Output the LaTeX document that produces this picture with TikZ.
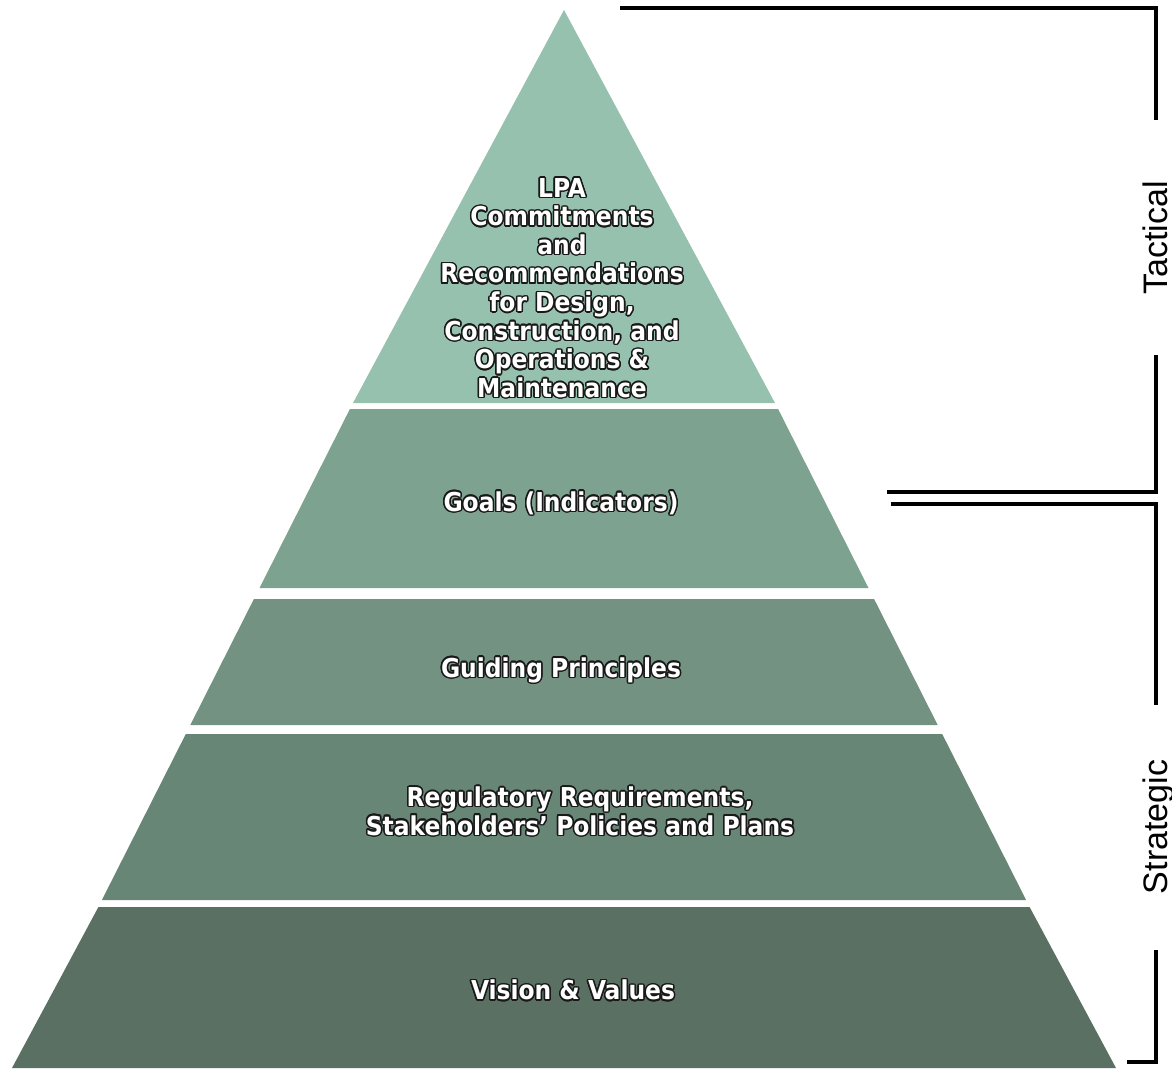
\documentclass[tikz,border=0pt]{standalone}
\usepackage{fontspec}
\setmainfont{DejaVu Sans Condensed}
\newfontfamily\sidefont{Liberation Sans}
\definecolor{bandA}{HTML}{96C1AE}
\definecolor{bandB}{HTML}{7EA290}
\definecolor{bandC}{HTML}{739282}
\definecolor{bandD}{HTML}{688676}
\definecolor{bandE}{HTML}{5A7063}
\tikzset{
  lbl/.style={align=center, inner sep=0pt,
    font=\bfseries\fontsize{26}{28.6}\selectfont},
  brace/.style={line width=4pt, line join=miter},
  sidelbl/.style={rotate=90, inner sep=0pt, anchor=base,
    font=\sidefont\fontsize{34}{40}\selectfont}
}
% white text with a dark rim
\newcommand\rimlabel[3]{%
  \foreach \ang in {0,22.5,...,337.5}
    \node[lbl, text=black!90, shift={(\ang:1.5pt)}] at #2 {#3};
  \node[lbl, text=white] (#1) at #2 {#3};
}
\begin{document}
\begin{tikzpicture}[x=1pt, y=-1pt]
  \useasboundingbox (0,0) rectangle (1172,1068);

  % Drawing band 1 (top)
  \fill [bandA] (564,10) -- (775,403) -- (353,403) -- cycle;%

  % Drawing band 2
  \fill [bandB] (349.9,409) -- (778.1,409) -- (868.5,588) -- (259.5,588) -- cycle;%

  % Drawing band 3
  \fill [bandC] (253.9,599) -- (874.1,599) -- (937.7,725) -- (190.3,725) -- cycle;%

  % Drawing band 4
  \fill [bandD] (185.8,734) -- (942.2,734) -- (1026.1,900) -- (101.9,900) -- cycle;%

  % Drawing band 5 (base)
  \fill [bandE] (98.4,907) -- (1029.6,907) -- (1116,1068) -- (12,1068) -- cycle;%

  % Marking band texts
  \rimlabel{lpa}{(562,288)}{LPA\\Commitments\\and\\Recommendations\\for Design,\\Construction, and\\Operations \&\\Maintenance}
  \rimlabel{goals}{(561,503)}{Goals (Indicators)}
  \rimlabel{guide}{(561,670)}{Guiding Principles}
  \rimlabel{regul}{(580,811)}{Regulatory Requirements,\\Stakeholders’ Policies and Plans}
  \rimlabel{vision}{(573,990)}{Vision \& Values}

  % Drawing bracket Tactical
  \draw [brace] (620,8) -- (1156,8) -- (1156,120);%
  \draw [brace] (1156,355) -- (1156,492) -- (887,492);%
  \node [sidelbl] (tact) at (1167,238) {Tactical};%

  % Drawing bracket Strategic
  \draw [brace] (891,504) -- (1156,504) -- (1156,705);%
  \draw [brace] (1156,950) -- (1156,1062) -- (1127,1062);%
  \node [sidelbl] (strat) at (1167,827) {Strategic};%
\end{tikzpicture}
\end{document}
